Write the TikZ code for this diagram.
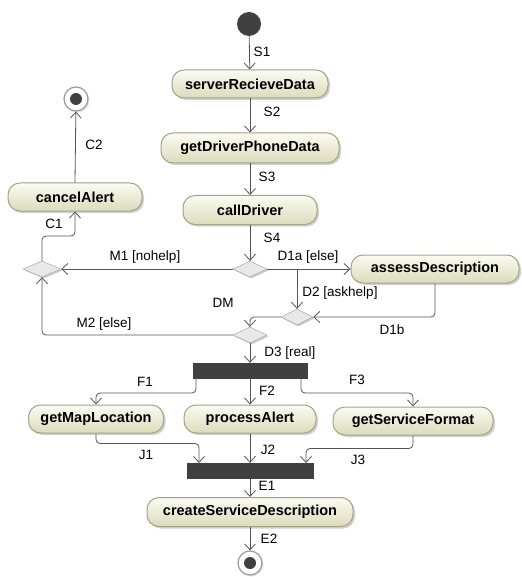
\documentclass[tikz,border=0pt]{standalone}
\usepackage{fontspec}
\setmainfont{Liberation Sans}
\usetikzlibrary{shapes.geometric,arrows.meta,shadows,calc}
\definecolor{boxlight}{HTML}{FBFBF2}
\definecolor{boxdark}{HTML}{DCDBBC}
\definecolor{boxborder}{HTML}{A4A384}
\definecolor{linecol}{HTML}{555555}
\definecolor{barcol}{HTML}{404040}
\tikzset{
  action/.style={draw=boxborder, line width=1pt, rounded corners=12pt, top color=boxlight, bottom color=boxdark,
    minimum height=28pt, inner sep=0pt, font=\bfseries\fontsize{14.5}{16}\selectfont,
    drop shadow={shadow xshift=2pt, shadow yshift=-2pt, fill=gray!45, opacity=0.8}},
  decision/.style={diamond, draw=gray!75, fill=gray!18, minimum width=34pt, minimum height=16pt, inner sep=0pt,
    drop shadow={shadow xshift=1.5pt, shadow yshift=-1.5pt, fill=gray!50, opacity=0.8}},
  bar/.style={rectangle, fill=barcol, draw=barcol, minimum height=15pt, inner sep=0pt},
  flow/.style={draw=linecol, line width=0.8pt, rounded corners=4pt, -{Straight Barb[length=6pt,width=11pt]}},
  lbl/.style={font=\fontsize{13.5}{15}\selectfont, inner sep=0pt},
  finalnode/.style={circle, draw=gray!80, line width=1.2pt, fill=white, minimum size=24pt, inner sep=0pt,
    drop shadow={shadow xshift=1.5pt, shadow yshift=-1.5pt, fill=gray!40}},
}
\begin{document}
\begin{tikzpicture}[x=1pt,y=-1pt]
\useasboundingbox[fill=white] (0,0) rectangle (521,577);
% nodes
\node[circle, fill=barcol, minimum size=24pt, inner sep=0pt] (init) at (249,24) {};
\node[action, minimum width=156pt] (srd) at (250,84) {serverRecieveData};
\node[action, minimum width=178pt, minimum height=30pt] (gdpd) at (250,148) {getDriverPhoneData};
\node[action, minimum width=134pt, minimum height=29pt] (cd) at (250,210) {callDriver};
\node[decision] (d1) at (250,269) {};
\node[action, minimum width=168pt] (ad) at (435,269) {assessDescription};
\node[decision, minimum width=32pt] (d2) at (297,317) {};
\node[decision] (dm) at (250,335) {};
\node[decision, minimum width=38pt] (lm) at (42,269) {};
\node[action, minimum width=134pt] (ca) at (75,197) {cancelAlert};
\node[finalnode] (fin1) at (76,99) {};
\node[circle, fill=barcol, minimum size=12pt, inner sep=0pt] (fin1dot) at (fin1) {};
\node[bar, minimum width=114pt] (fork) at (250,370.5) {};
\node[action, minimum width=135pt] (gml) at (96,419) {getMapLocation};
\node[action, minimum width=132pt] (pa) at (250,419) {processAlert};
\node[action, minimum width=160pt] (gsf) at (413,421) {getServiceFormat};
\node[bar, minimum width=126pt] (join) at (250,470.5) {};
\node[action, minimum width=206pt, minimum height=29pt] (csd) at (250,512) {createServiceDescription};
\node[finalnode] (fin2) at (250,563) {};
\node[circle, fill=barcol, minimum size=12pt, inner sep=0pt] (fin2dot) at (fin2) {};
% coordinates
\coordinate (br) at (297,269);
\coordinate (c1) at (75,236);
\coordinate (f1s) at (196,378);
\coordinate (f3s) at (301,378);
\coordinate (j1e) at (199,463);
\coordinate (j3e) at (306,463);
% connectors
\draw[flow] (init) -- (srd);
\draw[flow] (srd) -- (gdpd);
\draw[flow] (gdpd) -- (cd);
\draw[flow] (cd) -- (d1);
\draw[flow] (d1.east) -- (ad.west);
\draw[flow] (br) -- (d2.north);
\draw[flow] (ad.south) |- (d2.east);
\draw[flow] (d2.west) -| (dm.north);
\draw[flow] (d1.west) -- (lm.east);
\draw[flow] (dm.west) -| (lm.south);
\draw[flow] (lm.north) |- (c1) -- (ca.south);
\draw[flow] (ca.north) -- (fin1);
\draw[flow] (dm.south) -- (fork.north);
\draw[flow] (f1s) -- ++(0,15) -| (gml.north);
\draw[flow] (fork.south) -- (pa.north);
\draw[flow] (f3s) -- ++(0,15) -| (gsf.north);
\draw[flow] (gml.south) -- ++(0,10) -| (j1e);
\draw[flow] (pa.south) -- (join.north);
\draw[flow] (gsf.south) -- ++(0,13) -| (j3e);
\draw[flow] (join.south) -- (csd.north);
\draw[flow] (csd.south) -- (fin2);
% labels
\node[lbl] (lS1) at (262,52) {S1};
\node[lbl] (lS2) at (272,112) {S2};
\node[lbl] (lS3) at (267,177) {S3};
\node[lbl] (lS4) at (272,238) {S4};
\node[lbl] (lD1a) at (308,257) {D1a [else]};
\node[lbl] (lM1) at (145,257) {M1 [nohelp]};
\node[lbl] (lD2) at (340,293) {D2 [askhelp]};
\node[lbl] (lDM) at (223,303) {DM};
\node[lbl] (lD1b) at (392,330) {D1b};
\node[lbl] (lM2) at (104,324) {M2 [else]};
\node[lbl] (lD3) at (290,353) {D3 [real]};
\node[lbl] (lF1) at (145,382) {F1};
\node[lbl] (lF2) at (267,391) {F2};
\node[lbl] (lF3) at (357,380) {F3};
\node[lbl] (lJ1) at (146,455) {J1};
\node[lbl] (lJ2) at (268,450) {J2};
\node[lbl] (lJ3) at (358,460) {J3};
\node[lbl] (lE1) at (267,486) {E1};
\node[lbl] (lE2) at (269,539) {E2};
\node[lbl] (lC1) at (54,224) {C1};
\node[lbl] (lC2) at (94,145) {C2};
\end{tikzpicture}
\end{document}
